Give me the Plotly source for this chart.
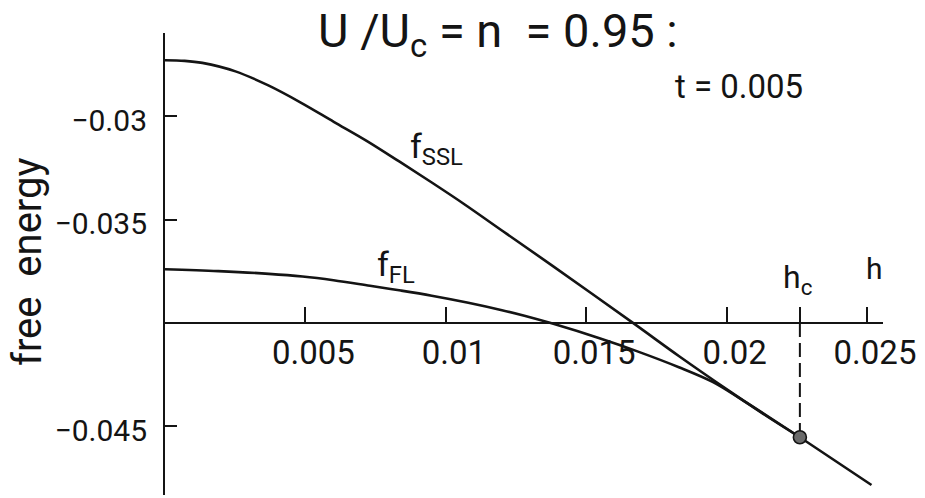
import plotly.graph_objects as go

# Free energy of the saturated (SSL) and ferromagnetic (FL) solutions vs. field h
h_ssl = [0.0, 0.0007, 0.00133, 0.00251, 0.00368, 0.00485, 0.00601, 0.00718,
         0.00834, 0.00950, 0.01066, 0.01205, 0.01379, 0.01669, 0.01831,
         0.02005, 0.02063, 0.02261, 0.02516]
f_ssl = [-0.02728, -0.02731, -0.02741, -0.02782, -0.02850, -0.02934, -0.03026,
         -0.03118, -0.03218, -0.03320, -0.03425, -0.03557, -0.03722, -0.04002,
         -0.04161, -0.04325, -0.04378, -0.04553, -0.04784]

h_fl = [0.0, 0.0019, 0.0037, 0.0049, 0.0060, 0.0073, 0.0084, 0.0095, 0.0108,
        0.0120, 0.0128, 0.0138, 0.0155, 0.0168, 0.0183, 0.0195, 0.0204,
        0.0216, 0.02261]
f_fl = [-0.03740, -0.03749, -0.03762, -0.03775, -0.03793, -0.03820, -0.03843,
        -0.03868, -0.03902, -0.03938, -0.03965, -0.04003, -0.04075, -0.04136,
        -0.04214, -0.04285, -0.04359, -0.04466, -0.04553]

# critical field where the two branches meet
h_c = 0.02261
f_c = -0.04553

x_tick_vals = [0.005, 0.01, 0.015, 0.02, 0.025]
x_tick_text = ["0.005", "0.01", "0.015", "0.02", "0.025"]
y_tick_vals = [-0.03, -0.035, -0.045]
y_tick_text = ["\u22120.03", "\u22120.035", "\u22120.045"]

H_RANGE = [0.0, 0.02557]
F_RANGE = [-0.048325, -0.025963]
F_AXIS = -0.04          # the h axis is drawn at this free-energy level

W, H = 925, 498
ML, MR, MT, MB = 165, 42, 33, 3
FONT = "Roboto"
INK = "#141414"

PW, PH = W - ML - MR, H - MT - MB


def at(px, py):
    """Pixel position on the page -> (h, f) data position, for placing text."""
    h = H_RANGE[0] + (px - ML) / PW * (H_RANGE[1] - H_RANGE[0])
    f = F_RANGE[1] - (py - MT) / PH * (F_RANGE[1] - F_RANGE[0])
    return h, f


fig = go.Figure()

curve_line = dict(color=INK, width=2.6, shape="spline", smoothing=1.0)
fig.add_trace(go.Scatter(x=h_ssl, y=f_ssl, mode="lines", line=curve_line,
                         hoverinfo="skip"))
fig.add_trace(go.Scatter(x=h_fl, y=f_fl, mode="lines", line=curve_line,
                         hoverinfo="skip"))
# dashed drop line from the h axis to the critical point
fig.add_trace(go.Scatter(
    x=[h_c, h_c], y=[F_AXIS, f_c], mode="lines",
    line=dict(color=INK, width=2, dash="14px,6px"),
    hoverinfo="skip"))
fig.add_trace(go.Scatter(
    x=[h_c], y=[f_c], mode="markers",
    marker=dict(size=13, color="#6b6b6b", line=dict(color=INK, width=1.6)),
    hoverinfo="skip"))

axis_pos = (F_AXIS - F_RANGE[0]) / (F_RANGE[1] - F_RANGE[0])

fig.update_xaxes(
    range=H_RANGE, anchor="free", position=axis_pos,
    showline=True, linecolor=INK, linewidth=2,
    ticks="inside", ticklen=15, tickwidth=2, tickcolor=INK,
    tickvals=x_tick_vals + [h_c], ticktext=x_tick_text + [""],
    tickfont=dict(family=FONT, size=33, color=INK),
    ticklabelstandoff=0, ticklabelshift=8,
    showgrid=False, zeroline=False)
fig.update_yaxes(
    range=F_RANGE,
    showline=True, linecolor=INK, linewidth=2,
    ticks="inside", ticklen=12, tickwidth=2, tickcolor=INK,
    tickvals=y_tick_vals, ticktext=y_tick_text,
    tickfont=dict(family=FONT, size=30, color=INK),
    ticklabelstandoff=10, ticklabelshift=4,
    showgrid=False, zeroline=False)


def label(text, px, py, size, **kw):
    h, f = at(px, py)
    d = dict(text=text, x=h, y=f, xref="x", yref="y", xanchor="left",
             yanchor="middle", showarrow=False, font=dict(size=size))
    d.update(kw)
    return d


annotations = [
    label("U /U<sub>c</sub> = n \u00a0= 0.95 :", 316, 34, 47),
    label("t = 0.005", 673, 86, 33),
    label("f<sub>SSL</sub>", 408, 148, 34),
    label("f<sub>FL</sub>", 375, 266, 34),
    label("h<sub>c</sub>", 781, 279, 32),
    label("h", 864, 268, 30),
    # axis title sits left of the plot area, so it is placed in paper units
    dict(text="free \u00a0energy", xref="paper", yref="paper",
         x=(27 - ML) / PW, y=(H - MB - 262) / PH,
         xanchor="center", yanchor="middle", textangle=-90,
         showarrow=False, font=dict(size=40)),
]

fig.update_layout(
    width=W, height=H,
    margin=dict(l=ML, r=MR, t=MT, b=MB),
    plot_bgcolor="white", paper_bgcolor="white",
    showlegend=False,
    font=dict(family=FONT, color=INK),
    annotations=annotations)

fig.write_html("out.html")
